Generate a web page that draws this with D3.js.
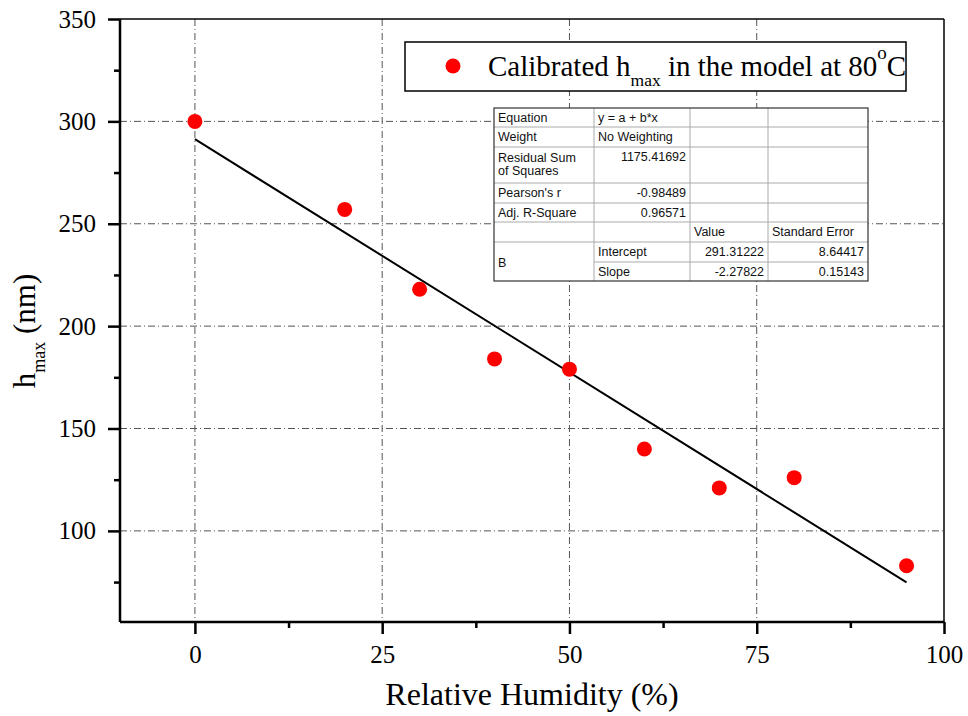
<!DOCTYPE html>
<html><head><meta charset="utf-8">
<script src="https://cdn.jsdelivr.net/npm/d3@7"></script>
<style>body{margin:0;background:#fff}svg{display:block}
.serif{font-family:"Liberation Serif","Times New Roman","Nimbus Roman","DejaVu Serif",serif;}
.sans{font-family:"Liberation Sans",Arial,Helvetica,sans-serif;}
</style>
</head><body>
<svg id="c" width="968" height="716"></svg>
<script>
const humidity = [0, 20, 30, 40, 50, 60, 70, 80, 95];
const hmax = [300, 257, 218, 184, 179, 140, 121, 126, 83];
const fitIntercept = 291.31222;
const fitSlope = -2.27822;
const xTicks = [0, 25, 50, 75, 100];
const xMinorTicks = [12.5, 37.5, 62.5, 87.5];
const yTicks = [100, 150, 200, 250, 300, 350];
const yMinorTicks = [75, 125, 175, 225, 275, 325];
const tableRows = [
  ["Equation", "y = a + b*x", "", ""],
  ["Weight", "No Weighting", "", ""],
  ["Residual Sum\nof Squares", "1175.41692", "", ""],
  ["Pearson's r", "-0.98489", "", ""],
  ["Adj. R-Square", "0.96571", "", ""],
  ["", "", "Value", "Standard Error"],
  ["B", "Intercept", "291.31222", "8.64417"],
  ["", "Slope", "-2.27822", "0.15143"]
];

const svg = d3.select("#c");
const L = 120, R = 944, T = 19, B = 622;
const x = d3.scaleLinear().domain([-10, 100]).range([L, R]);
const y = d3.scaleLinear().domain([55.5, 350]).range([B, T]);

// grid
const g = svg.append("g");
g.selectAll(".vg").data(xTicks.filter(d => d < 100)).enter().append("line")
  .attr("x1", d => x(d)).attr("x2", d => x(d)).attr("y1", T).attr("y2", B)
  .attr("stroke", "#555").attr("stroke-width", 1).attr("stroke-dasharray", "7,3,1,3");
g.selectAll(".hg").data(yTicks.filter(d => d < 350)).enter().append("line")
  .attr("y1", d => y(d)).attr("y2", d => y(d)).attr("x1", L).attr("x2", R)
  .attr("stroke", "#555").attr("stroke-width", 1).attr("stroke-dasharray", "7,3,1,3");

// frame
svg.append("line").attr("x1", L).attr("x2", R).attr("y1", T).attr("y2", T).attr("stroke", "#000").attr("stroke-width", 1.5);
svg.append("line").attr("x1", R).attr("x2", R).attr("y1", T).attr("y2", B).attr("stroke", "#000").attr("stroke-width", 1.5);

// axes
const xAxis = d3.axisBottom(x).tickValues(xTicks).tickSize(12).tickPadding(11).tickFormat(d3.format("d"));
const xMinor = d3.axisBottom(x).tickValues(xMinorTicks).tickSize(6).tickFormat("");
const yAxis = d3.axisLeft(y).tickValues(yTicks).tickSize(12).tickPadding(12).tickFormat(d3.format("d"));
const yMinor = d3.axisLeft(y).tickValues(yMinorTicks).tickSize(6).tickFormat("");

function styleAxis(sel) {
  sel.attr("font-family", null);
  sel.select(".domain").attr("stroke-width", 2.5).attr("stroke", "#000");
  sel.selectAll(".tick line").attr("stroke-width", 2.5).attr("stroke", "#000");
  sel.selectAll("text").attr("class", "serif").style("font-size", "25px").attr("fill", "#000");
}
const gx = svg.append("g").attr("transform", `translate(0,${B})`).call(xAxis); styleAxis(gx);
const gxm = svg.append("g").attr("transform", `translate(0,${B})`).call(xMinor); styleAxis(gxm); gxm.select(".domain").remove();
const gy = svg.append("g").attr("transform", `translate(${L},0)`).call(yAxis); styleAxis(gy);
const gym = svg.append("g").attr("transform", `translate(${L},0)`).call(yMinor); styleAxis(gym); gym.select(".domain").remove();
gx.select(".domain").attr("d", `M${L},0H${R}`);
gy.select(".domain").attr("d", `M0,${B}V${T}`);

// axis titles
svg.append("text").attr("class", "serif").attr("x", 532).attr("y", 705).attr("text-anchor", "middle")
  .style("font-size", "32px").text("Relative Humidity (%)");
const yt = svg.append("text").attr("class", "serif").attr("transform", `translate(35,331) rotate(-90)`)
  .attr("text-anchor", "middle").style("font-size", "31px");
yt.append("tspan").text("h");
yt.append("tspan").style("font-size", "18px").attr("dy", 10).text("max");
yt.append("tspan").attr("dy", -10).text(" (nm)");

// fit line
const fitX = [d3.min(humidity), d3.max(humidity)];
svg.append("line")
  .attr("x1", x(fitX[0])).attr("y1", y(fitIntercept + fitSlope * fitX[0]))
  .attr("x2", x(fitX[1])).attr("y2", y(fitIntercept + fitSlope * fitX[1]))
  .attr("stroke", "#000").attr("stroke-width", 2);

// points
svg.selectAll(".pt").data(humidity).enter().append("circle")
  .attr("cx", d => x(d)).attr("cy", (d, i) => y(hmax[i])).attr("r", 7.5).attr("fill", "#ff0000");

// legend
const lg = svg.append("g");
lg.append("rect").attr("x", 405).attr("y", 42).attr("width", 501).attr("height", 49)
  .attr("fill", "#fff").attr("stroke", "#000").attr("stroke-width", 1.5);
lg.append("circle").attr("cx", 453).attr("cy", 66).attr("r", 7.5).attr("fill", "#ff0000");
const lt = lg.append("text").attr("class", "serif").attr("x", 488).attr("y", 76).style("font-size", "29px");
lt.append("tspan").text("Calibrated h");
lt.append("tspan").style("font-size", "17.5px").attr("dy", 10).text("max");
lt.append("tspan").attr("dy", -10).text(" in the model at 80");
lt.append("tspan").style("font-size", "19px").attr("dy", -17).text("o");
lt.append("tspan").attr("dy", 17).text("C");

// table
const tx = [494, 594, 690, 768, 868];
const ty = [108, 127, 147, 183, 203, 222, 242, 262, 281];
const tg = svg.append("g").attr("class", "sans").style("font-size", "12.5px").attr("fill", "#111");
tg.append("rect").attr("x", tx[0]).attr("y", ty[0]).attr("width", tx[4] - tx[0]).attr("height", ty[8] - ty[0])
  .attr("fill", "#fff").attr("stroke", "none");
for (let r = 1; r < 8; r++) {
  const x0 = (r === 7) ? tx[1] : tx[0];
  tg.append("line").attr("x1", x0).attr("x2", tx[4]).attr("y1", ty[r]).attr("y2", ty[r]).attr("stroke", "#aaa");
}
for (let c = 1; c < 4; c++) {
  tg.append("line").attr("x1", tx[c]).attr("x2", tx[c]).attr("y1", ty[0]).attr("y2", ty[8]).attr("stroke", "#aaa");
}
tg.append("rect").attr("x", tx[0]).attr("y", ty[0]).attr("width", tx[4] - tx[0]).attr("height", ty[8] - ty[0])
  .attr("fill", "none").attr("stroke", "#333").attr("stroke-width", 1.2);
const rightCols = {"1175.41692":1, "-0.98489":1, "0.96571":1, "291.31222":1, "8.64417":1, "-2.27822":1, "0.15143":1};
tableRows.forEach((row, r) => {
  row.forEach((cell, c) => {
    if (!cell) return;
    const lines = cell.split("\n");
    const right = rightCols[cell];
    let yy = ty[r] + 14;
    if (cell === "B") yy = (ty[6] + ty[8]) / 2 + 5;
    if (r === 2 && c === 0) yy = ty[r] + 15;
    lines.forEach((ln, k) => {
      tg.append("text").attr("x", right ? tx[c + 1] - 4 : tx[c] + 4)
        .attr("y", yy + k * 13)
        .attr("text-anchor", right ? "end" : "start").text(ln);
    });
  });
});
</script>
</body></html>
